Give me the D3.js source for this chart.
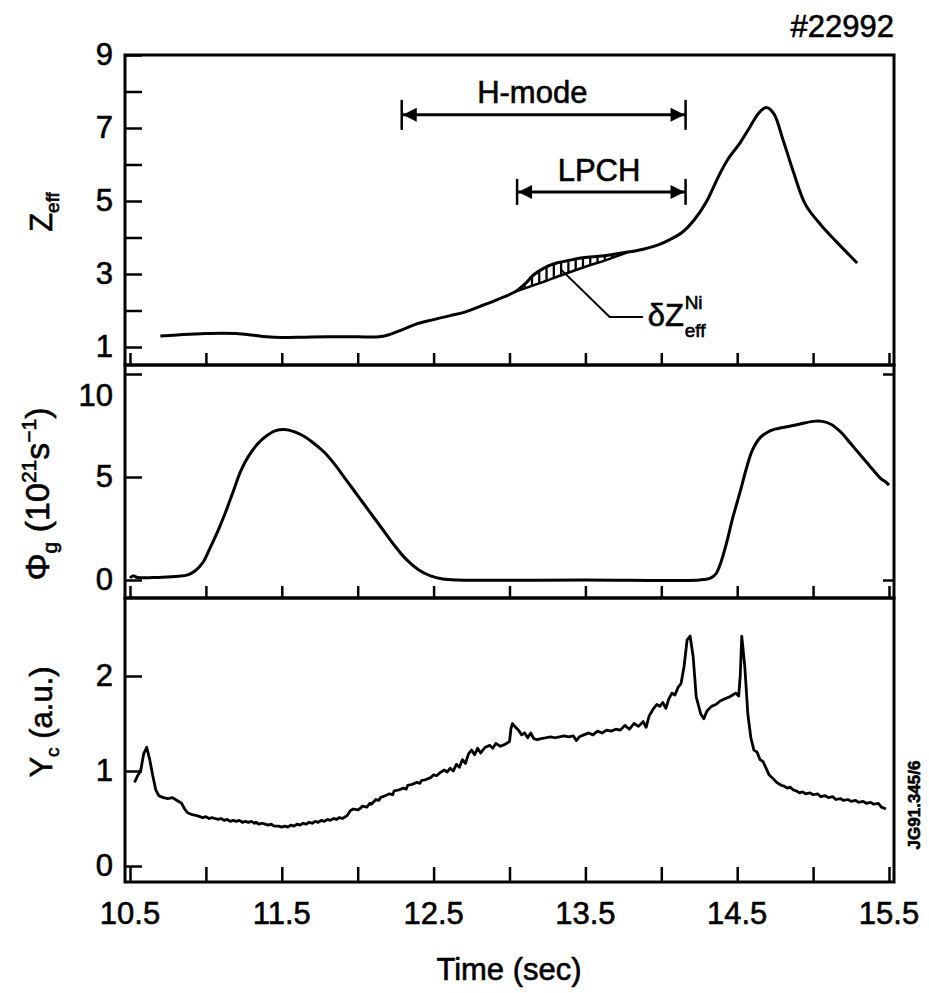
<!DOCTYPE html>
<html><head><meta charset="utf-8">
<script src="https://cdn.jsdelivr.net/npm/d3@7"></script>
<style>
body{margin:0;background:#fff}
svg{display:block}
text{font-family:"Liberation Sans",Arial,Helvetica,sans-serif;fill:#000;stroke:#000;stroke-width:0.6px}
</style>
</head><body>
<svg id="chart" width="929" height="993"></svg>
<script>
// ---------------- data ----------------
const zeffTime  = [10.70,10.85,11.00,11.10,11.20,11.30,11.40,11.50,11.65,11.80,12.00,12.14,12.20,12.28,12.38,12.50,12.61,12.70,12.81,12.92,13.04,13.10,13.16,13.23,13.31,13.40,13.47,13.57,13.67,13.78,13.88,13.98,14.06,14.14,14.22,14.30,14.38,14.44,14.52,14.58,14.64,14.69,14.74,14.80,14.87,14.95,15.05,15.15,15.29];
const zeffValue = [1.30,1.34,1.37,1.38,1.37,1.33,1.28,1.26,1.27,1.28,1.28,1.28,1.33,1.45,1.62,1.75,1.86,1.95,2.12,2.30,2.52,2.72,2.98,3.17,3.30,3.38,3.44,3.48,3.53,3.60,3.68,3.80,3.95,4.15,4.50,5.00,5.70,6.15,6.60,7.00,7.40,7.56,7.40,6.70,5.80,4.90,4.35,3.90,3.30];
// lower edge of the hatched nickel contribution
const baseTime  = [13.04,13.20,13.35,13.50,13.65,13.78];
const baseValue = [2.52,2.75,2.98,3.20,3.40,3.60];

const phiTime  = [10.50,10.52,10.55,10.65,10.75,10.82,10.88,10.93,10.98,11.03,11.08,11.13,11.18,11.23,11.28,11.34,11.40,11.46,11.52,11.58,11.64,11.70,11.78,11.85,11.92,12.00,12.08,12.16,12.24,12.32,12.40,12.48,12.56,12.66,13.50,14.25,14.32,14.36,14.39,14.43,14.47,14.52,14.56,14.60,14.65,14.72,14.80,14.90,15.00,15.06,15.12,15.18,15.25,15.32,15.40,15.45,15.48,15.50];
const phiValue = [0.10,0.20,0.12,0.12,0.15,0.18,0.25,0.45,0.85,1.60,2.40,3.30,4.30,5.30,6.00,6.60,7.00,7.25,7.30,7.20,7.00,6.70,6.20,5.60,4.90,4.10,3.30,2.50,1.70,1.00,0.50,0.20,0.05,0.00,0.00,0.00,0.08,0.30,0.80,1.80,3.00,4.30,5.40,6.30,6.90,7.25,7.40,7.55,7.70,7.70,7.55,7.20,6.60,6.00,5.30,4.90,4.75,4.60];

const ycTime  = [10.53,10.55,10.57,10.59,10.61,10.63,10.65,10.67,10.69,10.72,10.75,10.78,10.81,10.84,10.86,10.88,10.91,10.94,10.96,10.98,11.00,11.02,11.04,11.06,11.08,11.10,11.12,11.14,11.16,11.18,11.20,11.22,11.24,11.26,11.28,11.30,11.32,11.33,11.35,11.37,11.39,11.41,11.43,11.45,11.48,11.50,11.52,11.54,11.56,11.58,11.60,11.62,11.64,11.66,11.68,11.70,11.72,11.74,11.76,11.78,11.80,11.82,11.84,11.86,11.88,11.90,11.93,11.95,11.97,12.00,12.02,12.03,12.06,12.08,12.09,12.12,12.14,12.15,12.18,12.21,12.23,12.24,12.27,12.30,12.32,12.33,12.36,12.39,12.41,12.42,12.45,12.48,12.50,12.52,12.54,12.57,12.59,12.61,12.63,12.65,12.67,12.69,12.71,12.73,12.75,12.77,12.79,12.81,12.84,12.87,12.89,12.91,12.94,12.97,13.00,13.01,13.02,13.04,13.06,13.08,13.10,13.12,13.14,13.16,13.18,13.21,13.24,13.27,13.30,13.33,13.36,13.39,13.42,13.44,13.46,13.49,13.52,13.55,13.58,13.61,13.64,13.67,13.70,13.73,13.76,13.79,13.82,13.85,13.88,13.90,13.92,13.95,13.97,13.99,14.01,14.03,14.05,14.07,14.09,14.11,14.13,14.15,14.17,14.19,14.21,14.23,14.26,14.28,14.30,14.33,14.36,14.39,14.42,14.45,14.47,14.49,14.51,14.52,14.53,14.55,14.57,14.59,14.61,14.63,14.65,14.67,14.69,14.71,14.73,14.76,14.79,14.81,14.83,14.85,14.87,14.89,14.91,14.93,14.95,14.98,15.00,15.03,15.05,15.08,15.10,15.13,15.15,15.18,15.20,15.23,15.25,15.28,15.30,15.33,15.35,15.38,15.40,15.43,15.45,15.48];
const ycValue = [0.88,0.95,1.00,1.18,1.25,1.12,0.95,0.80,0.74,0.72,0.71,0.72,0.69,0.66,0.60,0.56,0.54,0.53,0.52,0.51,0.52,0.50,0.51,0.50,0.49,0.50,0.48,0.49,0.47,0.48,0.47,0.48,0.46,0.47,0.46,0.47,0.45,0.46,0.44,0.45,0.44,0.43,0.44,0.42,0.42,0.41,0.42,0.41,0.43,0.42,0.44,0.43,0.45,0.44,0.46,0.45,0.47,0.46,0.48,0.47,0.49,0.48,0.50,0.49,0.51,0.50,0.53,0.58,0.60,0.59,0.61,0.63,0.62,0.66,0.65,0.70,0.69,0.72,0.74,0.76,0.75,0.79,0.80,0.82,0.81,0.85,0.86,0.88,0.87,0.90,0.91,0.93,0.96,0.95,0.98,1.01,0.99,1.03,1.00,1.07,1.04,1.12,1.08,1.18,1.22,1.17,1.24,1.19,1.25,1.27,1.24,1.29,1.26,1.28,1.31,1.45,1.50,1.46,1.43,1.38,1.40,1.35,1.40,1.34,1.33,1.34,1.35,1.36,1.35,1.36,1.37,1.36,1.37,1.32,1.36,1.38,1.40,1.38,1.42,1.40,1.43,1.42,1.44,1.43,1.48,1.44,1.50,1.47,1.52,1.46,1.58,1.66,1.70,1.68,1.72,1.66,1.76,1.82,1.80,1.88,1.92,2.10,2.38,2.42,2.20,1.78,1.60,1.55,1.63,1.68,1.70,1.74,1.76,1.78,1.80,1.82,1.79,2.00,2.42,2.10,1.60,1.35,1.22,1.20,1.12,1.10,1.03,0.96,0.93,0.88,0.85,0.84,0.82,0.83,0.80,0.79,0.77,0.78,0.76,0.77,0.75,0.76,0.73,0.74,0.72,0.73,0.70,0.71,0.69,0.70,0.68,0.69,0.67,0.68,0.66,0.67,0.65,0.66,0.62,0.60];

const xTicks = [10.5,11,11.5,12,12.5,13,13.5,14,14.5,15,15.5];
const xTickLabels = ["10.5","11.5","12.5","13.5","14.5","15.5"];
const zeffTicks = [1,2,3,4,5,6,7,8,9];
const zeffTickLabels = ["1","3","5","7","9"];
const phiTicks = [0,5,10];
const ycTicks = [0,1,2];

const hmode = {start:12.29, end:14.16, level:7.36, label:"H-mode"};
const lpch  = {start:13.05, end:14.16, level:5.25, label:"LPCH"};

// ---------------- layout ----------------
const svg = d3.select("#chart");
const FL = 125, FR = 894;
const x = d3.scaleLinear().domain([10.5, 15.5]).range([130, 889]);
const panels = [
  {top:55,  bottom:365, y:d3.scaleLinear().domain([1,9]).range([347,55])},
  {top:365, bottom:598, y:d3.scaleLinear().domain([0,10]).range([580,374])},
  {top:598, bottom:882, y:d3.scaleLinear().domain([0,2]).range([866,676])}
];
const y1 = panels[0].y, y2 = panels[1].y, y3 = panels[2].y;

// frames
panels.forEach(p => {
  svg.append("rect").attr("x",FL).attr("y",p.top).attr("width",FR-FL).attr("height",p.bottom-p.top)
    .attr("fill","none").attr("stroke","#000").attr("stroke-width",3);
});

function styleAxis(g){
  g.select(".domain").remove();
  g.selectAll(".tick line").attr("stroke","#000").attr("stroke-width",2.5);
  g.selectAll(".tick text").attr("font-size",31).attr("fill","#000")
    .attr("font-family",'"Liberation Sans",Arial,sans-serif');
}

// left axes
svg.append("g").attr("transform",`translate(${FL},0)`)
  .call(d3.axisLeft(y1).tickValues(zeffTicks).tickSizeInner(-17).tickSizeOuter(0).tickPadding(12)
    .tickFormat(d => zeffTickLabels.includes(String(d)) ? String(d) : ""))
  .call(styleAxis);
svg.append("g").attr("transform",`translate(${FL},0)`)
  .call(d3.axisLeft(y2).tickValues(phiTicks).tickSizeInner(-17).tickSizeOuter(0).tickPadding(12).tickFormat(d3.format("d")))
  .call(styleAxis)
  .call(g => g.selectAll(".tick").filter(d => d===10).select("text").attr("dy","1.0em"));
svg.append("g").attr("transform",`translate(${FL},0)`)
  .call(d3.axisLeft(y3).tickValues(ycTicks).tickSizeInner(-17).tickSizeOuter(0).tickPadding(12).tickFormat(d3.format("d")))
  .call(styleAxis);
// right small ticks on middle panel
svg.append("g").attr("transform",`translate(${FR},0)`)
  .call(d3.axisRight(y2).tickValues([0,10]).tickSizeInner(-11).tickSizeOuter(0).tickFormat(""))
  .call(styleAxis);

// bottom ticks of each panel
panels.forEach((p,i) => {
  svg.append("g").attr("transform",`translate(0,${p.bottom})`)
    .call(d3.axisBottom(x).tickValues(xTicks).tickSizeInner(i===2?-15:-12).tickSizeOuter(0).tickFormat(""))
    .call(styleAxis);
});
// x tick labels
svg.append("g").selectAll("text").data(xTickLabels).join("text")
  .attr("x", d => x(+d)).attr("y", 924).attr("text-anchor","middle").attr("font-size",31).text(d => d);

// axis title
svg.append("text").attr("x",509).attr("y",980).attr("text-anchor","middle").attr("font-size",31).text("Time (sec)");

// ---------------- curves ----------------
const lineSmooth = (yS) => d3.line().x((d)=>x(d[0])).y(d=>yS(d[1])).curve(d3.curveCatmullRom.alpha(0.5));
const lineRaw = (yS) => d3.line().x((d)=>x(d[0])).y(d=>yS(d[1]));

const zeffData = zeffTime.map((t,i)=>[t,zeffValue[i]]);
const baseData = baseTime.map((t,i)=>[t,baseValue[i]]);
const phiData = phiTime.map((t,i)=>[t,phiValue[i]]);
const ycData = ycTime.map((t,i)=>[t,ycValue[i]]);

// hatching between baseline and Zeff curve
const interp = (ts, vs, t) => {
  const i = d3.bisectRight(ts, t);
  if (i<=0) return vs[0];
  if (i>=ts.length) return vs[vs.length-1];
  const f = (t-ts[i-1])/(ts[i]-ts[i-1]);
  return vs[i-1] + f*(vs[i]-vs[i-1]);
};
const hatchT = d3.range(13.10, 13.76, 0.048);
svg.append("g").selectAll("line").data(hatchT).join("line")
  .attr("x1", t=>x(t)).attr("x2", t=>x(t))
  .attr("y1", t=>y1(interp(baseTime,baseValue,t)))
  .attr("y2", t=>y1(interp(zeffTime,zeffValue,t)))
  .attr("stroke","#000").attr("stroke-width",2.3);

svg.append("path").datum(zeffData).attr("d", lineSmooth(y1)).attr("fill","none").attr("stroke","#000").attr("stroke-width",3).attr("stroke-linejoin","round");
svg.append("path").datum(baseData).attr("d", lineSmooth(y1)).attr("fill","none").attr("stroke","#000").attr("stroke-width",2.5);
svg.append("path").datum(phiData).attr("d", lineSmooth(y2)).attr("fill","none").attr("stroke","#000").attr("stroke-width",3).attr("stroke-linejoin","round");
svg.append("path").datum(ycData).attr("d", lineRaw(y3)).attr("fill","none").attr("stroke","#000").attr("stroke-width",2.8).attr("stroke-linejoin","round");

// ---------------- annotations ----------------
function rangeArrow(a, barHalf){
  const g = svg.append("g");
  const yy = y1(a.level), xa = x(a.start), xb = x(a.end);
  g.append("line").attr("x1",xa).attr("x2",xb).attr("y1",yy).attr("y2",yy).attr("stroke","#000").attr("stroke-width",3);
  [xa,xb].forEach(xx => g.append("line").attr("x1",xx).attr("x2",xx).attr("y1",yy-barHalf).attr("y2",yy+barHalf).attr("stroke","#000").attr("stroke-width",2.5));
  g.append("path").attr("d",`M${xa+1},${yy} L${xa+15},${yy-7} L${xa+15},${yy+7} Z`).attr("fill","#000");
  g.append("path").attr("d",`M${xb-1},${yy} L${xb-15},${yy-7} L${xb-15},${yy+7} Z`).attr("fill","#000");
  return g;
}
rangeArrow(hmode, 15);
rangeArrow(lpch, 13);
svg.append("text").attr("x", x(13.15)).attr("y", y1(7.99)+11).attr("text-anchor","middle").attr("font-size",31).text(hmode.label);
svg.append("text").attr("x", x(13.59)).attr("y", y1(5.85)+11).attr("text-anchor","middle").attr("font-size",31).text(lpch.label);

// leader for delta Z_eff^Ni
svg.append("path").attr("d", `M${x(13.34)},${y1(3.12)} L${x(13.66)},${y1(1.82)} L${x(13.88)},${y1(1.82)}`)
  .attr("fill","none").attr("stroke","#000").attr("stroke-width",2);
svg.append("text").attr("x", x(13.91)).attr("y", y1(1.58)).attr("font-size",31).text("δZ");
const dzx = x(13.91) + 37;
svg.append("text").attr("x", dzx).attr("y", y1(2.05)).attr("font-size",19).text("Ni");
svg.append("text").attr("x", dzx).attr("y", y1(1.28)).attr("font-size",19).text("eff");

// shot number
svg.append("text").attr("x", FR).attr("y", 37).attr("text-anchor","end").attr("font-size",31).text("#22992");

// y axis titles (rotated)
function yTitle(cx, cy, parts, base){
  const t = svg.append("text").attr("transform",`translate(${cx},${cy}) rotate(-90)`).attr("text-anchor","middle");
  parts.forEach(p => {
    const s = t.append("tspan").text(p.t).attr("font-size", p.s || base);
    if (p.dy) s.attr("dy", p.dy);
  });
}
yTitle(52, 212, [{t:"Z"},{t:"eff",s:19,dy:7},{t:"",dy:-7}], 31);
yTitle(49, 494, [{t:"Φ"},{t:"g",s:21,dy:8},{t:" (10",dy:-8},{t:"21",s:21,dy:-13},{t:"s",dy:13},{t:"−1",s:21,dy:-13},{t:")",dy:13}], 34);
yTitle(52, 722, [{t:"Y"},{t:"c",s:19,dy:7},{t:" (a.u.)",dy:-7}], 31);

// figure code
svg.append("text").attr("transform","translate(920,805) rotate(-90)").attr("text-anchor","middle")
  .attr("font-size",17).attr("font-weight","bold").text("JG91.345/6");
</script>
</body></html>
